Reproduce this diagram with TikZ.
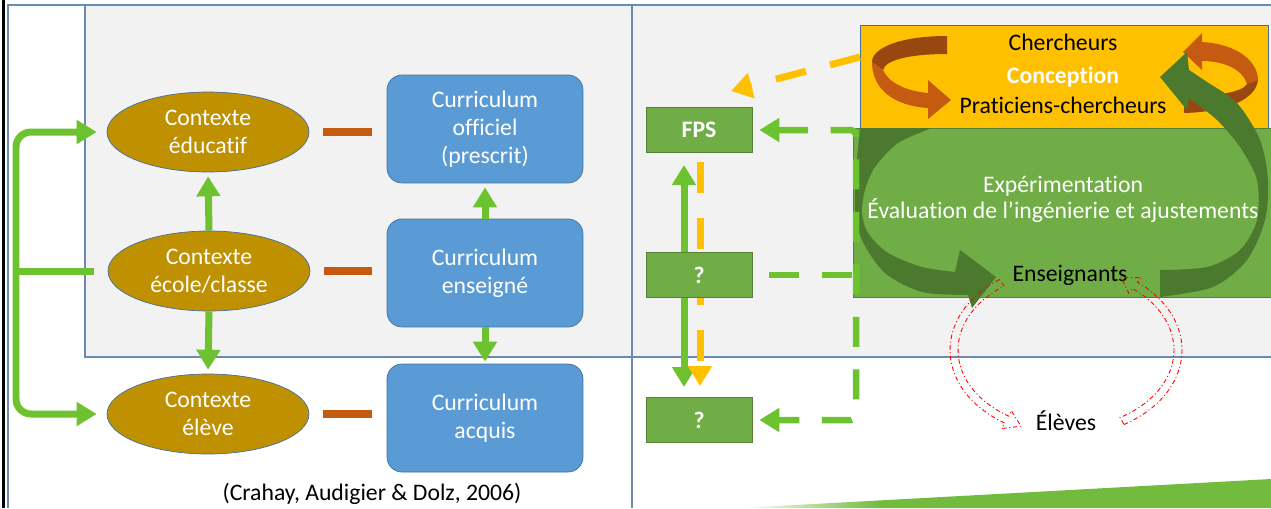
\documentclass[tikz,border=0pt]{standalone}
\usepackage{fontspec}
\setmainfont[Ligatures=NoCommon]{Carlito}
\usetikzlibrary{arrows.meta,shapes.geometric}

\definecolor{panelgray}{HTML}{F2F2F2}
\definecolor{framebl}{HTML}{6A8CB4}
\definecolor{edgebl}{HTML}{41719C}
\definecolor{ctxgold}{HTML}{BF9000}
\definecolor{curbl}{HTML}{5B9BD5}
\definecolor{linkbr}{HTML}{C55A11}
\definecolor{brdark}{HTML}{984710}
\definecolor{arrgreen}{HTML}{6CC32F}
\definecolor{boxgreen}{HTML}{70AD47}
\definecolor{boxgreenedge}{HTML}{548235}
\definecolor{arcgreen}{HTML}{4B7A2F}
\definecolor{concorange}{HTML}{FFC000}
\definecolor{swoosh}{HTML}{72BB3E}

\begin{document}
\begin{tikzpicture}[x=0.02cm,y=-0.02cm,
    every node/.style={font=\fontsize{13.5}{16}\selectfont},
    ctx/.style={ellipse,draw=edgebl,fill=ctxgold,text=white,align=center,
      minimum width=4.04cm,minimum height=1.6cm,inner sep=0pt},
    cur/.style={draw=edgebl,fill=curbl,text=white,align=center,
      rounded corners=0.3cm,minimum width=3.92cm,minimum height=2.16cm},
    stepbox/.style={draw=boxgreenedge,fill=boxgreen,text=white,
      minimum width=2.12cm,minimum height=0.9cm,font=\fontsize{13.5}{16}\selectfont\bfseries},
    link/.style={draw=linkbr,line width=0.15cm,shorten <=0.28cm,shorten >=0.3cm},
    tip/.style={-{Triangle[width=0.46cm,length=0.4cm]}},
    garrow/.style={draw=arrgreen,line width=0.14cm},
    gdash/.style={draw=arrgreen,line width=0.13cm,dash pattern=on 0.6cm off 0.45cm},
    odash/.style={draw=concorange,line width=0.14cm,dash pattern=on 0.62cm off 0.5cm},
    redloop/.style={draw=red,line width=0.5pt,dash pattern=on 2.5pt off 1.5pt on 0.6pt off 1.5pt}]

  \useasboundingbox (0,0) rectangle (1271,508);
  \fill[white] (0,0) rectangle (1271,508);
  \fill[panelgray] (85,5) rectangle (1271,357);
  \draw[framebl,line width=0.6pt] (8,508) -- (8,5) -- (1271,5);
  \draw[framebl,line width=0.6pt] (85,5) -- (85,357) -- (1271,357);
  \draw[framebl,line width=0.6pt] (632,5) -- (632,508);
  \draw[black,line width=1.8pt] (3.5,0) -- (3.5,508);
  \fill[swoosh] (880,500.4) -- (1271,479) -- (1271,508) -- (880,508) -- cycle;
  \shade[left color=white,right color=swoosh] (740,508) -- (880,500.4) -- (880,508) -- cycle;

  % left part: contexts and curricula
  \def \Contexts {
    ctxedu/208/132/{Contexte\\éducatif},
    ctxecole/209/271/{Contexte\\école/classe},
    ctxeleve/208/414/{Contexte\\élève}}
  \def \Curricula {
    curoff/129/{Curriculum\\officiel\\(prescrit)},
    curens/273/{Curriculum\\enseigné},
    curacq/418/{Curriculum\\acquis}}

  \foreach \id / \x / \y / \txt in \Contexts {
    \node[ctx] (\id) at (\x, \y) {\txt};
  }
  \foreach \id / \y / \txt in \Curricula {
    \node[cur] (\id) at (485, \y) {\txt};
  }
  \foreach \a / \b in {ctxedu/curoff, ctxecole/curens, ctxeleve/curacq} {
    \path[link] (\a.east) -- (\a.east -| \b.west);
  }

  \draw[garrow,tip,shorten >=0.08cm] (ctxecole.north) -- (ctxedu.south);
  \draw[garrow,tip,shorten >=0.08cm] (ctxecole.south) -- (ctxeleve.north);
  \draw[garrow,tip,shorten >=0.08cm] (curens.north) -- (curoff.south);
  \draw[garrow,tip,shorten >=0.04cm] (curens.south) -- (curacq.north);

  \coordinate (brk) at (16,271);
  \draw[garrow,shorten <=0.28cm] (ctxecole.west) -- (brk);
  \draw[garrow,tip,rounded corners=0.3cm,shorten >=0.2cm] (brk) -- (brk |- ctxedu.west) -- (ctxedu.west);
  \draw[garrow,tip,rounded corners=0.3cm,shorten >=0.2cm] (brk) -- (brk |- ctxeleve.west) -- (ctxeleve.west);

  \node (cite) at (372,494) {(Crahay, Audigier \& Dolz, 2006)};

  % right part
  \def \Steps {fps/130/FPS, qa/275/?, qb/420/?}
  \draw[garrow,{Triangle[width=0.46cm,length=0.4cm]}-{Triangle[width=0.46cm,length=0.4cm]},
    shorten <=0.25cm,shorten >=0.21cm] (684,152.5) -- (684,397.5);
  \draw[odash,tip,shorten <=0.19cm,shorten >=0.23cm] (700,152.5) -- (700,397.5);
  \foreach \id / \y / \txt in \Steps {
    \node[stepbox] (\id) at (699, \y) {\txt};
  }

  \node[draw=edgebl,fill=concorange,minimum width=8.16cm,minimum height=2.06cm] (conc) at (1064,76.5) {};
  % twisted arrows of the design loop
  \fill[brdark] (947,36) .. controls (900,36) and (872,48) .. (872,62) -- (883,70)
    .. controls (885,60) and (910,54) .. (947,54) -- cycle;
  \fill[linkbr] (872,62) -- (883,70) .. controls (888,82) and (905,91) .. (928,93)
    -- (928,80) -- (951,100) -- (928,119) -- (928,108)
    .. controls (895,106) and (872,90) .. (872,62) -- cycle;
  \fill[linkbr] (1202,42) .. controls (1238,44) and (1258,62) .. (1258,80) -- (1247,84)
    .. controls (1243,70) and (1225,61) .. (1202,61) -- (1202,70) -- (1183,52) -- (1202,33) -- cycle;
  \fill[brdark] (1258,80) .. controls (1256,100) and (1225,112) .. (1184,113) -- (1184,96)
    .. controls (1220,96) and (1242,92) .. (1247,84) -- cycle;
  \node (cherch) at (1063,42) {Chercheurs};
  \node[text=white,font=\fontsize{13.5}{16}\selectfont\bfseries] (concept) at (1063,77) {Conception};
  \node (pratic) at (1063,105) {Praticiens-chercheurs};

  \node[draw=boxgreenedge,fill=boxgreen,minimum width=8.36cm,minimum height=3.38cm] (exper) at (1062,212.5) {};
  \node[text=white,align=center,font=\fontsize{13.5}{14.7}\selectfont] (evaltxt) at (1063,199)
    {Expérimentation\\Évaluation de l’ingénierie et ajustements};

  \coordinate (cw) at (860,57);
  \coordinate (otip) at (731,91);
  \draw[odash,-{Triangle[width=0.5cm,length=0.42cm]}] (cw) -- (otip);

  % big loop between design and experimentation
  \fill[arcgreen] (855,128) -- (932,128) -- plot[smooth] coordinates {(932,128) (898,143) (875,167)
    (865,190) (862,213) (868,233) (888,253) (922,267) (955,272)} -- (960,250) -- (996,277)
    -- (972,308) -- (968,295) -- plot[smooth] coordinates {(968,295) (922,292) (885,273) (862,240)
    (855,207) (857,160) (860,128)} -- cycle;
  \fill[arcgreen] (1160,297) -- (1160,270) -- plot[smooth] coordinates {(1160,270) (1207,267)
    (1240,250) (1257,220) (1257,180) (1240,147) (1217,120) (1189,98)} -- (1187,110) -- (1160,77)
    -- (1187,52) -- (1189,70) -- plot[smooth] coordinates {(1189,70) (1207,82) (1237,103)
    (1260,140) (1268,180) (1265,220) (1247,260) (1213,287) (1160,297)} -- cycle;

  \node (ens) at (1070,275) {Enseignants};
  \node (eleves) at (1066,421) {Élèves};

  % loop teachers / pupils
  \draw[redloop] ([shift={(1066,350)}]235:116 and 86) arc[start angle=235,end angle=122,x radius=116,y radius=86]
    -- (1002,428.4) -- (1021,426.2) -- (1011.3,410.6)
    -- ([shift={(1066,350)}]122:108 and 78) arc[start angle=122,end angle=235,x radius=108,y radius=78] -- cycle;
  \draw[redloop] ([shift={(1066,350)}]60:116 and 86) arc[start angle=60,end angle=-52,x radius=116,y radius=86]
    -- (1141.1,277.5) -- (1121,277.4) -- (1128.8,293.2)
    -- ([shift={(1066,350)}]-52:108 and 78) arc[start angle=-52,end angle=60,x radius=108,y radius=78] -- cycle;

  \coordinate (gtop) at (856,130);
  \coordinate (gbot) at (856,420);
  \draw[gdash,rounded corners=0.1cm,{Triangle[width=0.46cm,length=0.4cm]}-{Triangle[width=0.46cm,length=0.4cm]},
    shorten <=0.14cm,shorten >=0.14cm] (fps.east) -- (gtop) -- (gbot) -- (qb.east);
  \draw[gdash,shorten <=0.34cm] (qa.east) -- (qa.east -| gtop);
\end{tikzpicture}
\end{document}
